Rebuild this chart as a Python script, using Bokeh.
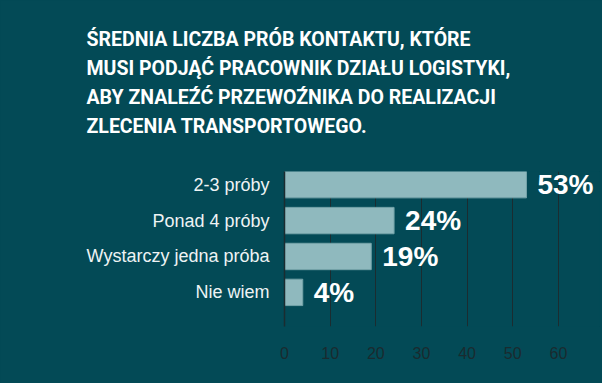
from bokeh.plotting import figure
from bokeh.models import Range1d, FixedTicker, Title, ColumnDataSource, GlobalInlineStyleSheet
from bokeh.embed import file_html
from bokeh.resources import INLINE

title_lines = [
    "ŚREDNIA LICZBA PRÓB KONTAKTU, KTÓRE",
    "MUSI PODJĄĆ PRACOWNIK DZIAŁU LOGISTYKI,",
    "ABY ZNALEŹĆ PRZEWOŹNIKA DO REALIZACJI",
    "ZLECENIA TRANSPORTOWEGO.",
]
categories = ["2-3 próby", "Ponad 4 próby", "Wystarczy jedna próba", "Nie wiem"]
values = [53, 24, 19, 4]
x_ticks = [0, 10, 20, 30, 40, 50, 60]

BG = "#034a56"
BAR = "#8fb9be"
GRID = "#1b2c30"

n = len(categories)
positions = [n - 1 - i for i in range(n)]
src = ColumnDataSource(dict(
    y=positions, v=values, lab=[f"{v}%" for v in values], cat=categories))

p = figure(width=602, height=383, output_backend="svg", toolbar_location=None,
           x_range=Range1d(0, 69), y_range=Range1d(-0.95, 3.367),
           min_border_left=284, min_border_right=3, min_border_top=171,
           min_border_bottom=57,
           background_fill_color=BG, border_fill_color=BG, outline_line_color=None)

p.stylesheets = [GlobalInlineStyleSheet(
    css="html, body {margin:0 !important; padding:0; background:%s; overflow:hidden;}" % BG)]

p.hbar(y="y", left=0, right="v", height=0.735, fill_color=BAR,
       line_color="#74a3a9", line_width=1, source=src)
p.text(x="v", y="y", text="lab", x_offset=11, text_baseline="middle",
       text_align="left", text_font={"value": "Liberation Sans"},
       text_font_style="bold", text_font_size="28px", text_color="white",
       source=src)

# y axis (categories)
p.yaxis.ticker = FixedTicker(ticks=positions)
p.yaxis.major_label_overrides = {pos: cat for pos, cat in zip(positions, categories)}
p.yaxis.axis_line_color = GRID
p.yaxis.axis_line_width = 1.5
p.yaxis.major_tick_line_color = None
p.yaxis.minor_tick_line_color = None
p.yaxis.major_label_standoff = 9
p.yaxis.major_label_text_font = "Liberation Sans"
p.yaxis.major_label_text_font_size = "18px"
p.yaxis.major_label_text_color = "#eef3f4"

# x axis
p.xaxis.ticker = FixedTicker(ticks=x_ticks)
p.xaxis.axis_line_color = None
p.xaxis.major_tick_line_color = None
p.xaxis.minor_tick_line_color = None
p.xaxis.major_label_standoff = 14
p.xaxis.major_label_text_font = "Liberation Sans"
p.xaxis.major_label_text_font_size = "16px"
p.xaxis.major_label_text_color = "#1a2b2f"

p.xgrid.ticker = FixedTicker(ticks=x_ticks)
p.xgrid.grid_line_color = GRID
p.xgrid.grid_line_width = 1
p.ygrid.grid_line_color = None

# spacer between title block and plot frame
p.add_layout(Title(text=" ", text_font="Roboto", text_font_size="19px", standoff=7), "above")
for line in reversed(title_lines):
    p.add_layout(Title(text=line, align="left", offset=-198,
                       text_font="Roboto", text_font_size="19.5px",
                       text_font_style="bold", text_color="white",
                       standoff=4), "above")

open("out.html", "w").write(file_html(p, INLINE))
